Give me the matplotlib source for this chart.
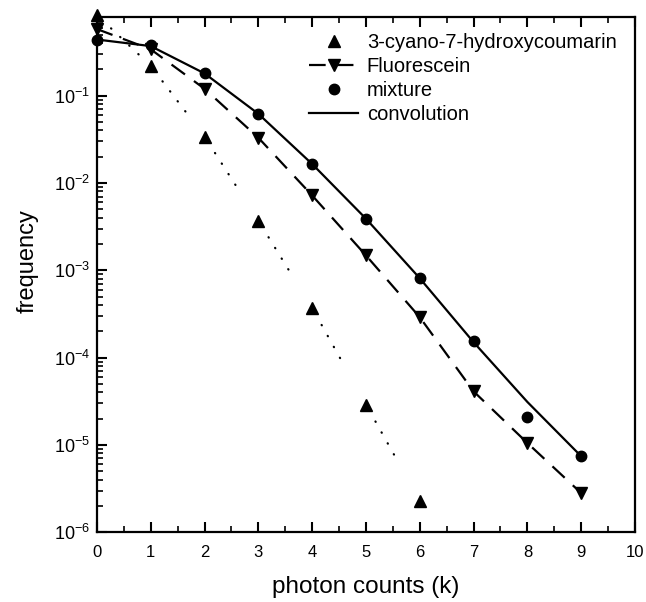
import numpy as np
import matplotlib
matplotlib.use("Agg")
import matplotlib.pyplot as plt
from matplotlib.ticker import LogLocator, MultipleLocator, NullFormatter, LogFormatterSciNotation

plt.rcParams['font.family'] = ['Liberation Sans', 'DejaVu Sans']
plt.rcParams['lines.scale_dashes'] = False

# photon count distributions
k = np.arange(10)
k_cou = np.arange(7)
coumarin = [0.84, 0.22, 0.034, 3.7e-3, 3.7e-4, 2.9e-5, 2.3e-6]
fluorescein = [0.58, 0.34, 0.12, 0.033, 7.2e-3, 1.48e-3, 2.9e-4, 4.1e-5, 1.05e-5, 2.8e-6]
mixture = [0.44, 0.38, 0.18, 0.062, 0.0167, 3.9e-3, 8.2e-4, 1.55e-4, 2.1e-5, 7.4e-6]
convolution = [0.44, 0.37, 0.18, 0.062, 0.0165, 3.9e-3, 8.1e-4, 1.5e-4, 3.1e-5, 7.4e-6]

fig = plt.figure(figsize=(6.46, 6.02), dpi=100)
ax = fig.add_axes([0.150, 0.116, 0.833, 0.856])

# dotted fit through the coumarin points, drawn per segment so the sparse
# dots sit just after each triangle like in the original
dots = (0, (0.3, 13.7, 0.3, 8.7, 0.3, 8.7, 0.3, 8.7, 0.3, 200))
for i in range(len(k_cou) - 1):
    ax.plot(k_cou[i:i + 2], coumarin[i:i + 2], color='k', lw=1.6,
            dash_capstyle='round', ls=dots, label='_nolegend_')

ax.plot(k_cou, coumarin, ls='none', marker='^', ms=8, color='k', clip_on=False,
        label='3-cyano-7-hydroxycoumarin')
ax.plot(k, fluorescein, ls=(0, (12, 8)), lw=1.6, marker='v', ms=8, color='k',
        clip_on=False, label='Fluorescein')
ax.plot(k, mixture, ls='none', marker='o', ms=7.5, color='k', clip_on=False,
        label='mixture')
ax.plot(k, convolution, ls='-', lw=1.6, color='k', label='convolution')

ax.set_yscale('log')
ax.set_xlim(0, 10)
ax.set_ylim(1e-6, 0.8)

ax.xaxis.set_major_locator(MultipleLocator(1))
ax.xaxis.set_minor_locator(MultipleLocator(0.5))
ax.yaxis.set_major_locator(LogLocator(base=10, numticks=10))
ax.yaxis.set_minor_locator(LogLocator(base=10, subs=np.arange(2, 10), numticks=20))
ax.yaxis.set_major_formatter(LogFormatterSciNotation())
ax.yaxis.set_minor_formatter(NullFormatter())

ax.tick_params(axis='both', which='major', direction='in', length=7, width=1.5)
ax.tick_params(axis='x', which='major', labelsize=12, pad=9)
ax.tick_params(axis='y', which='major', labelsize=13, pad=5)
ax.tick_params(axis='both', which='minor', direction='in', length=4, width=1.2)
ax.tick_params(axis='x', which='both', top=True)
ax.tick_params(axis='y', which='both', right=False)

for s in ax.spines.values():
    s.set_linewidth(1.6)

ax.set_xlabel('photon counts (k)', fontsize=17.5, labelpad=12)
ax.set_ylabel('frequency', fontsize=17)
ax.yaxis.set_label_coords(-0.108, 0.526)

ax.legend(loc='upper left', bbox_to_anchor=(0.395, 0.969), frameon=False,
          fontsize=14.5, handlelength=2.4, handletextpad=0.45, labelspacing=0.25,
          borderaxespad=0, borderpad=0)

fig.savefig('out.png', dpi=100)
